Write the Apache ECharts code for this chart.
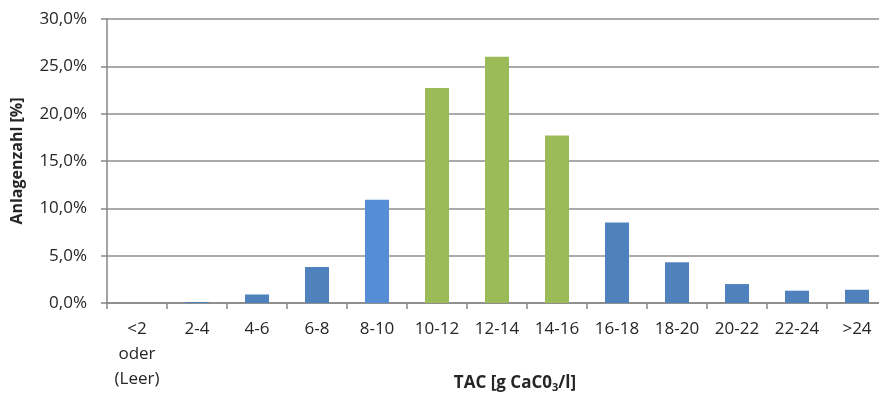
<!DOCTYPE html>
<html>
<head>
<meta charset="utf-8">
<script src="https://cdn.jsdelivr.net/npm/echarts@6/dist/echarts.min.js"></script>
<style>
  html, body { margin: 0; padding: 0; background: #fff; }
  #chart { width: 879px; height: 401px; }
</style>
</head>
<body>
<div id="chart"></div>
<script>
// TAC classes (g CaCO3/l) and share of plants per class, in percent
const categories = ['<2\noder\n(Leer)', '2-4', '4-6', '6-8', '8-10', '10-12', '12-14', '14-16', '16-18', '18-20', '20-22', '22-24', '>24'];
const shares = [0, 0.1, 0.9, 3.8, 10.9, 22.7, 26.0, 17.7, 8.5, 4.3, 2.0, 1.3, 1.4];
const yTicks = [0, 5, 10, 15, 20, 25, 30];

// Colour per class: optimum range green, 8-10 lighter blue, the rest standard blue
const colorFor = (cat) => {
  if (cat === '10-12' || cat === '12-14' || cat === '14-16') return '#9BBB59';
  if (cat === '8-10') return '#558ED5';
  return '#4F81BD';
};

const font = 'Open Sans';
const chart = echarts.init(document.getElementById('chart'), null, { renderer: 'canvas' });

chart.setOption({
  animation: false,
  grid: { left: 107, top: 19, width: 780, height: 284, containLabel: false, outerBoundsMode: 'none' },
  xAxis: {
    type: 'category',
    data: categories,
    boundaryGap: true,
    axisLine: { lineStyle: { color: '#868686', width: 1.5 } },
    axisTick: { show: true, length: 6, lineStyle: { color: '#868686', width: 1.5 } },
    axisLabel: {
      interval: 0, margin: 14, fontFamily: font, fontSize: 17, color: '#262626',
      lineHeight: 25
    },
    name: '{b|TAC [g CaC0}{s|3}{b|/l]}',
    nameLocation: 'middle',
    nameGap: 71,
    nameMoveOverlap: false,
    nameTextStyle: {
      padding: [0, 0, 0, 36],
      rich: {
        b: { fontFamily: font, fontSize: 17, fontWeight: 'bold', color: '#262626' },
        s: { fontFamily: font, fontSize: 11, fontWeight: 'bold', color: '#262626', verticalAlign: 'bottom', padding: [8, 0, 0, 0] }
      }
    }
  },
  yAxis: {
    type: 'value',
    min: yTicks[0],
    max: yTicks[yTicks.length - 1],
    interval: yTicks[1] - yTicks[0],
    axisLine: { show: true, lineStyle: { color: '#868686', width: 1.5 } },
    axisTick: { show: true, length: 6, lineStyle: { color: '#868686', width: 1.5 } },
    splitLine: { lineStyle: { color: '#8e8e8e', width: 1.5 } },
    axisLabel: {
      margin: 20, fontFamily: font, fontSize: 17, color: '#262626',
      formatter: (v) => v.toFixed(1).replace('.', ',') + '%'
    },
    name: 'Anlagenzahl [%]',
    nameLocation: 'middle',
    nameGap: 82,
    nameRotate: 90,
    nameMoveOverlap: false,
    nameTextStyle: { fontFamily: font, fontSize: 16, fontWeight: 'bold', color: '#262626' }
  },
  series: [{
    type: 'bar',
    barWidth: 24,
    data: shares.map((v, i) => ({
      value: v,
      itemStyle: { color: colorFor(categories[i]) }
    }))
  }]
});
</script>
</body>
</html>
